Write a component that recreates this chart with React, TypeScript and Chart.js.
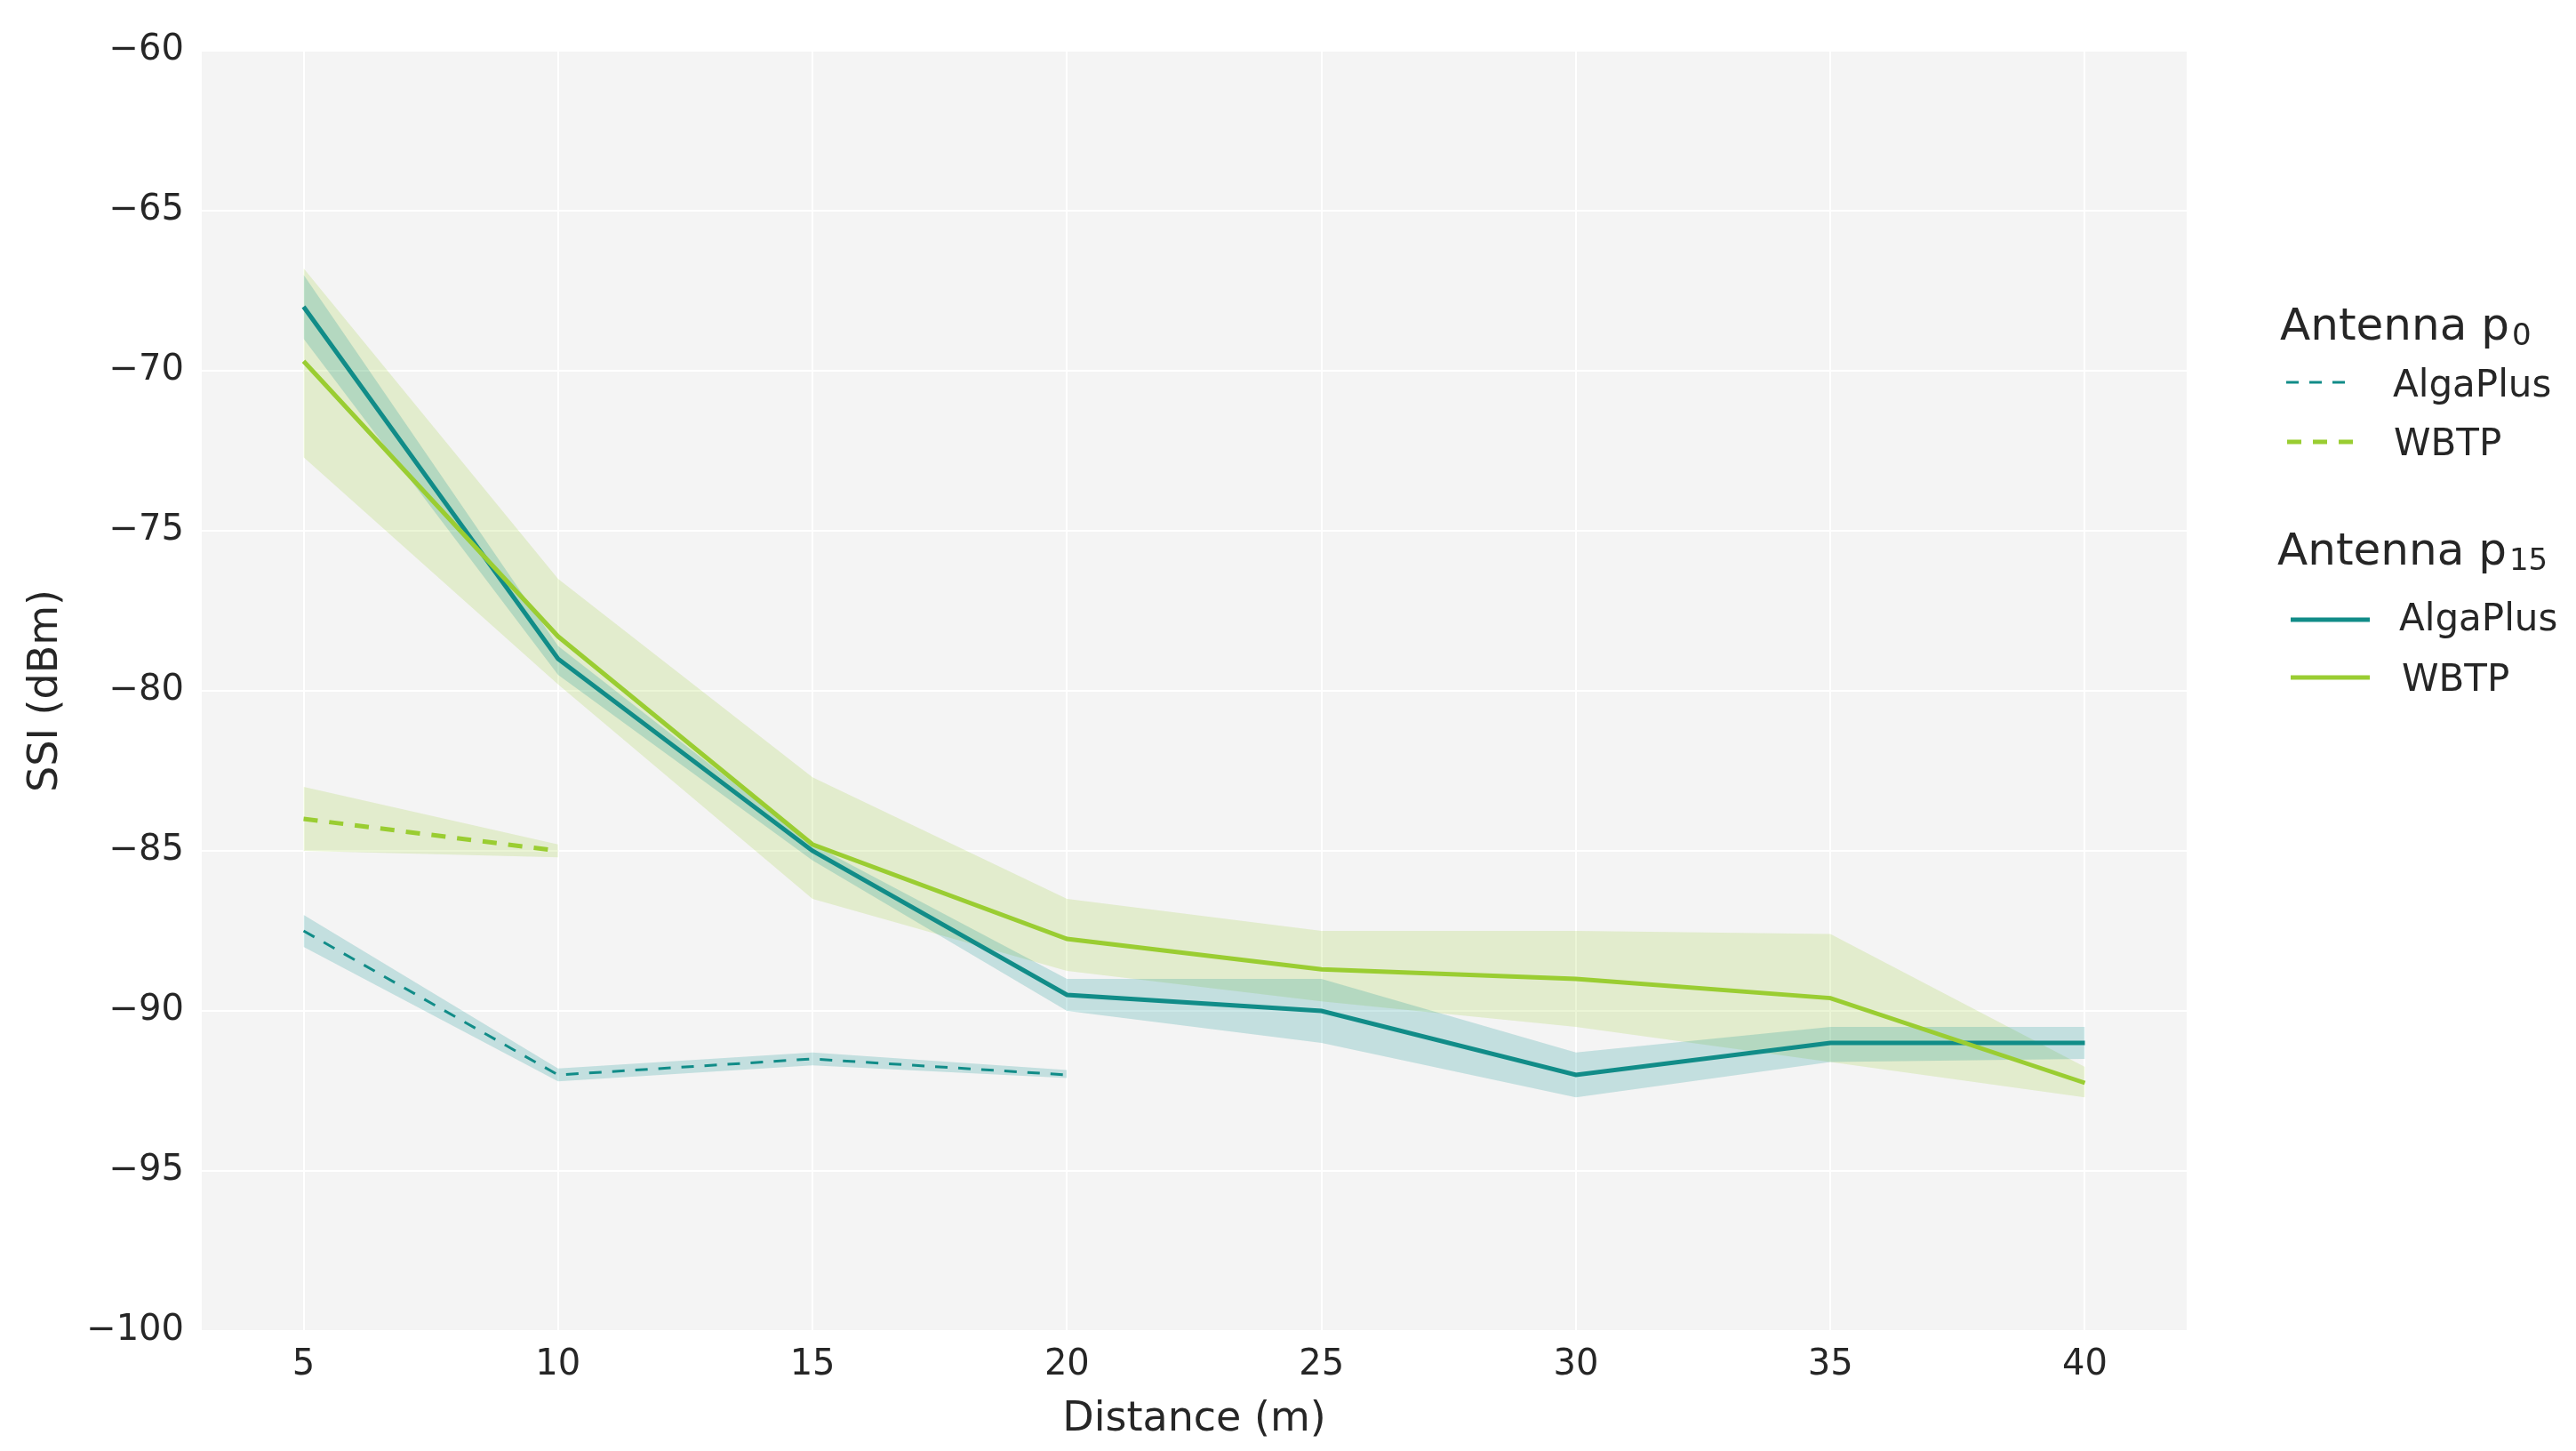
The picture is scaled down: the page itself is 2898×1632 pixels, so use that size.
import { useEffect, useRef } from "react"
import { Chart, registerables, type ChartConfiguration, type Plugin } from "chart.js"

Chart.register(...registerables)

// distances (m) for antenna p15 series
const distances = [5, 10, 15, 20, 25, 30, 35, 40]
const xTicks = [5, 10, 15, 20, 25, 30, 35, 40]
const yTicks = [-100, -95, -90, -85, -80, -75, -70, -65, -60]

// Antenna p15
const algaP15Mean = [-68.0, -79.0, -85.0, -89.5, -90.0, -92.0, -91.0, -91.0]
const algaP15Hi = [-67.0, -78.6, -84.8, -89.0, -89.0, -91.3, -90.5, -90.5]
const algaP15Lo = [-69.0, -79.5, -85.3, -90.0, -91.0, -92.7, -91.6, -91.5]
const wbtpP15Mean = [-69.7, -78.3, -84.8, -87.75, -88.7, -89.0, -89.6, -92.25]
const wbtpP15Hi = [-66.8, -76.5, -82.7, -86.5, -87.5, -87.5, -87.6, -91.75]
const wbtpP15Lo = [-72.7, -79.8, -86.5, -88.75, -89.7, -90.5, -91.6, -92.7]

// Antenna p0
const algaP0Dist = [5, 10, 15, 20]
const algaP0Mean = [-87.5, -92.0, -91.5, -92.0]
const algaP0Hi = [-87.0, -91.8, -91.3, -91.85]
const algaP0Lo = [-88.0, -92.2, -91.7, -92.1]
const wbtpP0Dist = [5, 10]
const wbtpP0Mean = [-84.0, -85.0]
const wbtpP0Hi = [-83.0, -84.8]
const wbtpP0Lo = [-85.0, -85.2]

const TEAL = "#118c88"
const GREEN = "#9acd32"
const TEAL_BAND = "rgba(0, 139, 139, 0.2)"
const GREEN_BAND = "rgba(154, 205, 50, 0.2)"
const TEXT = "#262626"
const FONT = "'DejaVu Sans', sans-serif"

const pts = (xs: number[], ys: number[]) => xs.map((x, i) => ({ x, y: ys[i] }))

// upper edge fills down to the next dataset (the lower edge)
const band = (xs: number[], hi: number[], lo: number[], color: string) => [
  { data: pts(xs, hi), borderWidth: 0, pointRadius: 0, backgroundColor: color, fill: "+1" as const },
  { data: pts(xs, lo), borderWidth: 0, pointRadius: 0, backgroundColor: color, fill: false as const },
]

const line = (xs: number[], ys: number[], color: string, width: number, dash: number[]) => ({
  data: pts(xs, ys),
  borderColor: color,
  borderWidth: width,
  borderDash: dash,
  pointRadius: 0,
  fill: false as const,
})

const legendGroups = [
  {
    title: "Antenna p",
    sub: "0",
    titleX: 2565,
    titleY: 382,
    entries: [
      { label: "AlgaPlus", color: TEAL, width: 3, dash: [14, 12], x1: 2572, x2: 2647, y: 430, tx: 2692, ty: 446 },
      { label: "WBTP", color: GREEN, width: 5, dash: [16, 13], x1: 2573, x2: 2649, y: 497, tx: 2693, ty: 512 },
    ],
  },
  {
    title: "Antenna p",
    sub: "15",
    titleX: 2562,
    titleY: 635,
    entries: [
      { label: "AlgaPlus", color: TEAL, width: 5, dash: [], x1: 2577, x2: 2666, y: 697, tx: 2699, ty: 709 },
      { label: "WBTP", color: GREEN, width: 5, dash: [], x1: 2577, x2: 2666, y: 762, tx: 2702, ty: 777 },
    ],
  },
]

const plotBackground: Plugin = {
  id: "plotBackground",
  beforeDraw(chart) {
    const { ctx, chartArea } = chart
    ctx.save()
    ctx.fillStyle = "#f4f4f4"
    ctx.fillRect(chartArea.left, chartArea.top, chartArea.right - chartArea.left, chartArea.bottom - chartArea.top)
    ctx.restore()
  },
}

const groupLegend: Plugin = {
  id: "groupLegend",
  afterDraw(chart) {
    const ctx = chart.ctx
    ctx.save()
    ctx.textBaseline = "alphabetic"
    ctx.textAlign = "left"
    for (const g of legendGroups) {
      ctx.fillStyle = TEXT
      ctx.font = `50px ${FONT}`
      ctx.fillText(g.title, g.titleX, g.titleY)
      const w = ctx.measureText(g.title).width
      ctx.font = `34px ${FONT}`
      ctx.fillText(g.sub, g.titleX + w + 3, g.titleY + 6)
      for (const e of g.entries) {
        ctx.beginPath()
        ctx.strokeStyle = e.color
        ctx.lineWidth = e.width
        ctx.setLineDash(e.dash)
        ctx.moveTo(e.x1, e.y)
        ctx.lineTo(e.x2, e.y)
        ctx.stroke()
        ctx.setLineDash([])
        ctx.fillStyle = TEXT
        ctx.font = `42px ${FONT}`
        ctx.fillText(e.label, e.tx, e.ty)
      }
    }
    ctx.restore()
  },
}

const minus = (v: number | string) => String(v).replace("-", "\u2212")

export default function App() {
  const chartRef = useRef<HTMLCanvasElement>(null)
  const chartInstance = useRef<Chart | null>(null)

  useEffect(() => {
    document.body.style.margin = "0"
    document.body.style.overflow = "hidden"
    if (!chartRef.current) return
    const ctx = chartRef.current.getContext("2d")
    if (!ctx) return

    if (chartInstance.current) {
      chartInstance.current.destroy()
    }

    const config: ChartConfiguration<"line"> = {
      type: "line",
      data: {
        datasets: [
          ...band(distances, algaP15Hi, algaP15Lo, TEAL_BAND),
          ...band(distances, wbtpP15Hi, wbtpP15Lo, GREEN_BAND),
          ...band(algaP0Dist, algaP0Hi, algaP0Lo, TEAL_BAND),
          ...band(wbtpP0Dist, wbtpP0Hi, wbtpP0Lo, GREEN_BAND),
          line(distances, wbtpP15Mean, GREEN, 5, []),
          line(distances, algaP15Mean, TEAL, 5, []),
          line(wbtpP0Dist, wbtpP0Mean, GREEN, 5, [16, 13]),
          line(algaP0Dist, algaP0Mean, TEAL, 3, [14, 12]),
        ] as any,
      },
      options: {
        animation: false,
        responsive: true,
        maintainAspectRatio: false,
        devicePixelRatio: 1,
        layout: { padding: { top: 57, right: 438, bottom: 0, left: 0 } },
        plugins: {
          legend: { display: false },
          tooltip: { enabled: false },
          filler: { drawTime: "beforeDatasetsDraw" },
        },
        scales: {
          x: {
            type: "linear",
            min: 3,
            max: 42,
            afterBuildTicks: (s) => {
              s.ticks = xTicks.map((v) => ({ value: v }))
            },
            afterFit: (s) => {
              s.height = 135
            },
            grid: { color: "#ffffff", lineWidth: 2, drawTicks: false },
            border: { display: false },
            ticks: { color: TEXT, font: { family: FONT, size: 40 }, padding: 15, maxRotation: 0 },
            title: {
              display: true,
              text: "Distance (m)",
              color: TEXT,
              font: { family: FONT, size: 46 },
              padding: { top: 0, bottom: 7 },
            },
          },
          y: {
            type: "linear",
            min: -100,
            max: -60,
            afterBuildTicks: (s) => {
              s.ticks = yTicks.map((v) => ({ value: v }))
            },
            afterFit: (s) => {
              s.width = 227
            },
            grid: { color: "#ffffff", lineWidth: 2, drawTicks: false },
            border: { display: false },
            ticks: { color: TEXT, font: { family: FONT, size: 40 }, padding: 20, callback: (v) => minus(v) },
            title: {
              display: true,
              text: "SSI (dBm)",
              color: TEXT,
              font: { family: FONT, size: 46 },
              padding: { top: 24, bottom: 0 },
            },
          },
        },
      },
      plugins: [plotBackground, groupLegend],
    }

    chartInstance.current = new Chart(ctx, config)

    return () => {
      if (chartInstance.current) {
        chartInstance.current.destroy()
        chartInstance.current = null
      }
    }
  }, [])

  return (
    <div style={{ width: 2898, height: 1632, position: "relative", background: "#fff" }}>
      <canvas ref={chartRef} />
    </div>
  )
}
